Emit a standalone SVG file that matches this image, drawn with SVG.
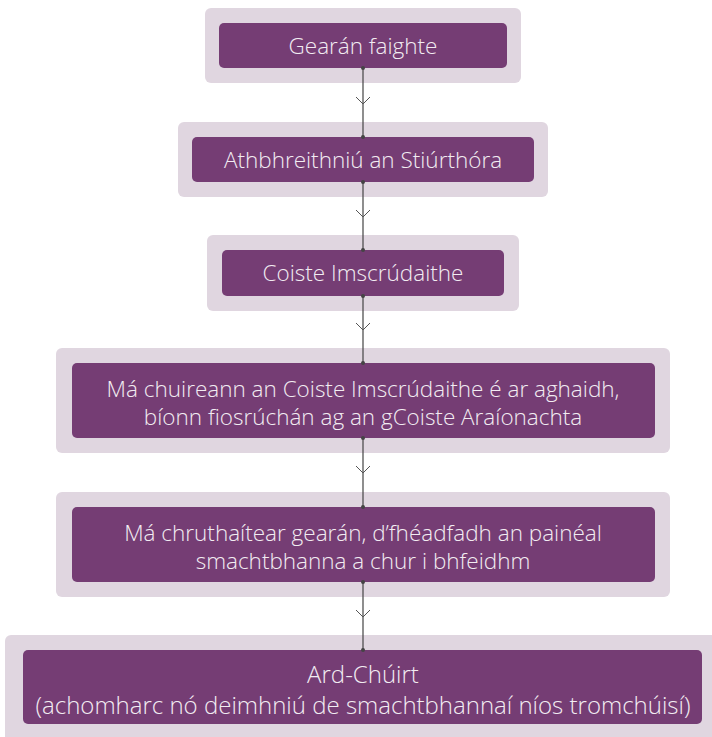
<svg xmlns="http://www.w3.org/2000/svg" width="712" height="737" viewBox="0 0 712 737">
<defs>
<style>
.outer{fill:#e0d6e0}
.inner{fill:#753d74}
.t{font-family:"Open Sans","Lato",sans-serif;font-weight:300;font-size:22.5px;fill:#f2ecf2;text-anchor:middle}
.big{font-size:24px}
.ln{stroke:#444;stroke-width:1.2;fill:none}
.ch{stroke:#555;stroke-width:1;fill:none}
.dot{fill:#444}
</style>
</defs>
<rect width="712" height="737" fill="#ffffff"/>
<g id="n1">
<rect class="outer" x="205" y="8" width="316" height="75" rx="6"/>
<rect class="inner" x="219" y="23" width="288" height="45" rx="5"/>
<text class="t" x="363" y="54">Gearán faighte</text>
</g>
<g id="n2">
<rect class="outer" x="178" y="122" width="370" height="75" rx="6"/>
<rect class="inner" x="192" y="137" width="342" height="45" rx="5"/>
<text class="t" x="363" y="168">Athbhreithniú an Stiúrthóra</text>
</g>
<g id="n3">
<rect class="outer" x="207" y="235" width="312" height="76" rx="6"/>
<rect class="inner" x="222" y="250" width="282" height="46" rx="5"/>
<text class="t" x="363" y="281">Coiste Imscrúdaithe</text>
</g>
<g id="n4">
<rect class="outer" x="56" y="348" width="614" height="105" rx="6"/>
<rect class="inner" x="72" y="363" width="583" height="75" rx="5"/>
<text class="t" x="363" y="397">Má chuireann an Coiste Imscrúdaithe é ar aghaidh,</text>
<text class="t" x="363" y="425">bíonn fiosrúchán ag an gCoiste Araíonachta</text>
</g>
<g id="n5">
<rect class="outer" x="56" y="492" width="614" height="105" rx="6"/>
<rect class="inner" x="72" y="507" width="583" height="75" rx="5"/>
<text class="t" x="363" y="541">Má chruthaítear gearán, d’fhéadfadh an painéal</text>
<text class="t" x="363" y="569">smachtbhanna a chur i bhfeidhm</text>
</g>
<g id="n6">
<rect class="outer" x="5" y="635" width="716" height="110" rx="6"/>
<rect class="inner" x="23" y="650" width="679" height="74" rx="5"/>
<text class="t big" x="363" y="683">Ard-Chúirt</text>
<text class="t big" x="363" y="714">(achomharc nó deimhniú de smachtbhannaí níos tromchúisí)</text>
</g>
<g id="connectors">
<line class="ln" x1="363" y1="68" x2="363" y2="137"/>
<circle class="dot" cx="363" cy="68" r="2"/><circle class="dot" cx="363" cy="137" r="2"/>
<polyline class="ch" points="356,97 363,104 370,97"/>
<line class="ln" x1="363" y1="182" x2="363" y2="250"/>
<circle class="dot" cx="363" cy="182" r="2"/><circle class="dot" cx="363" cy="250" r="2"/>
<polyline class="ch" points="356,210 363,217 370,210"/>
<line class="ln" x1="363" y1="296" x2="363" y2="363"/>
<circle class="dot" cx="363" cy="296" r="2"/><circle class="dot" cx="363" cy="363" r="2"/>
<polyline class="ch" points="356,323 363,330 370,323"/>
<line class="ln" x1="363" y1="438" x2="363" y2="507"/>
<circle class="dot" cx="363" cy="438" r="2"/><circle class="dot" cx="363" cy="507" r="2"/>
<polyline class="ch" points="356,466 363,473 370,466"/>
<line class="ln" x1="363" y1="582" x2="363" y2="650"/>
<circle class="dot" cx="363" cy="582" r="2"/><circle class="dot" cx="363" cy="650" r="2"/>
<polyline class="ch" points="356,610 363,617 370,610"/>
</g>
</svg>
